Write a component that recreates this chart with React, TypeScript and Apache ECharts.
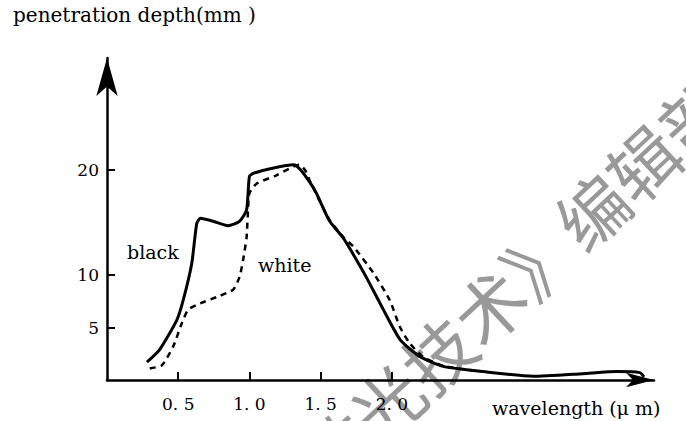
import React, { useEffect, useRef } from "react";
import * as echarts from "echarts";

const blackCurve: [number, number][] = [
  [0.28, 1.7], [0.37, 2.9], [0.49, 5.7], [0.535, 7.6], [0.595, 11.1], [0.63, 14.9],
  [0.655, 15.4], [0.75, 15.1], [0.85, 14.7], [0.93, 15.1], [0.98, 16.2], [1.0, 19.4],
  [1.03, 19.7], [1.17, 20.2], [1.31, 20.5], [1.36, 20.0], [1.43, 18.7], [1.47, 17.8],
  [1.56, 15.2], [1.66, 13.5], [1.71, 12.4], [1.82, 9.8], [1.94, 6.7], [2.06, 3.8],
  [2.2, 2.2], [2.36, 1.3], [2.64, 0.8], [2.99, 0.35], [3.34, 0.6], [3.58, 0.8],
  [3.74, 0.7], [3.77, 0.3],
];

const whiteCurve: [number, number][] = [
  [0.3, 1.1], [0.385, 1.4], [0.465, 3.2], [0.525, 5.4], [0.57, 6.7], [0.655, 7.3],
  [0.77, 7.9], [0.885, 8.6], [0.93, 9.8], [0.955, 11.4], [0.98, 13.6], [0.99, 16.2],
  [1.0, 17.8], [1.05, 18.7], [1.19, 19.5], [1.35, 20.5], [1.39, 20.0], [1.43, 18.8],
  [1.56, 15.3], [1.66, 13.6], [1.73, 12.7], [1.87, 10.2], [1.985, 7.6], [2.055, 5.1],
  [2.125, 3.5], [2.22, 2.2], [2.36, 1.35], [2.6, 0.85],
];

const xTicks = [0.5, 1.0, 1.5, 2.0];
const xTickLabels = ["0. 5", "1. 0", "1. 5", "2. 0"];
const yTicks = [5, 10, 20];

const yTitle = "penetration depth(mm )";
const xTitle = "wavelength (μ m)";
const seriesNames = ["black", "white"];
const watermark = "《激光技术》编辑部";

const SERIF = '"DejaVu Serif", "Liberation Serif", serif';

export default function App() {
  const ref = useRef<HTMLDivElement>(null);
  useEffect(() => {
    document.body.style.margin = "0";
    if (!ref.current) return;
    const chart = echarts.init(ref.current, null, { renderer: "svg" });
    chart.setOption({
      animation: false,
      backgroundColor: "#ffffff",
      grid: {
        left: 107,
        right: 32,
        top: 58,
        bottom: 41,
        containLabel: false,
        outerBoundsMode: "none",
      },
      xAxis: {
        type: "value",
        min: 0,
        max: 3.84,
        splitLine: { show: false },
        axisLine: {
          show: true,
          onZero: false,
          symbol: ["none", "arrow"],
          symbolSize: [11, 28],
          lineStyle: { color: "#000", width: 2.5 },
        },
        axisTick: {
          show: true,
          inside: true,
          length: 8,
          customValues: xTicks,
          lineStyle: { color: "#000", width: 2 },
        },
        axisLabel: {
          show: true,
          customValues: xTicks,
          margin: 15,
          color: "#000",
          fontFamily: SERIF,
          fontSize: 17,
          formatter: (v: number) => {
            const i = xTicks.findIndex((t) => Math.abs(t - v) < 1e-6);
            return i >= 0 ? xTickLabels[i] : "";
          },
        },
      },
      yAxis: {
        type: "value",
        min: 0,
        max: 30.67,
        splitLine: { show: false },
        axisLine: {
          show: true,
          onZero: false,
          symbol: ["none", "arrow"],
          symbolSize: [16, 38],
          lineStyle: { color: "#000", width: 2.5 },
        },
        axisTick: {
          show: true,
          inside: true,
          length: 8,
          customValues: yTicks,
          lineStyle: { color: "#000", width: 2 },
        },
        axisLabel: {
          show: true,
          customValues: yTicks,
          margin: 8,
          color: "#000",
          fontFamily: SERIF,
          fontSize: 17,
        },
      },
      graphic: [
        {
          type: "text",
          x: 488,
          y: 305,
          rotation: 0.75,
          z: 0,
          silent: true,
          style: {
            text: watermark,
            fontSize: 70,
            fontFamily: '"Noto Sans CJK SC", sans-serif',
            fill: "#999999",
            align: "center",
            verticalAlign: "middle",
          },
        },
        {
          type: "text",
          left: 13,
          top: 5,
          style: { text: yTitle, fontSize: 20, fontFamily: SERIF, fill: "#000" },
        },
        {
          type: "text",
          left: 492,
          top: 398,
          style: { text: xTitle, fontSize: 19, fontFamily: SERIF, fill: "#000" },
        },
        {
          type: "text",
          left: 127,
          top: 242,
          style: { text: seriesNames[0], fontSize: 19, fontFamily: SERIF, fill: "#000" },
        },
        {
          type: "text",
          left: 258,
          top: 255,
          style: { text: seriesNames[1], fontSize: 19, fontFamily: SERIF, fill: "#000" },
        },
      ],
      series: [
        {
          name: seriesNames[0],
          type: "line",
          data: blackCurve,
          showSymbol: false,
          smooth: 0.2,
          z: 3,
          lineStyle: { color: "#000", width: 3 },
        },
        {
          name: seriesNames[1],
          type: "line",
          data: whiteCurve,
          showSymbol: false,
          smooth: 0.2,
          z: 3,
          lineStyle: { color: "#000", width: 2.5, type: [6, 5] },
        },
      ],
    });
    return () => chart.dispose();
  }, []);
  return <div ref={ref} style={{ width: 686, height: 421 }} />;
}
